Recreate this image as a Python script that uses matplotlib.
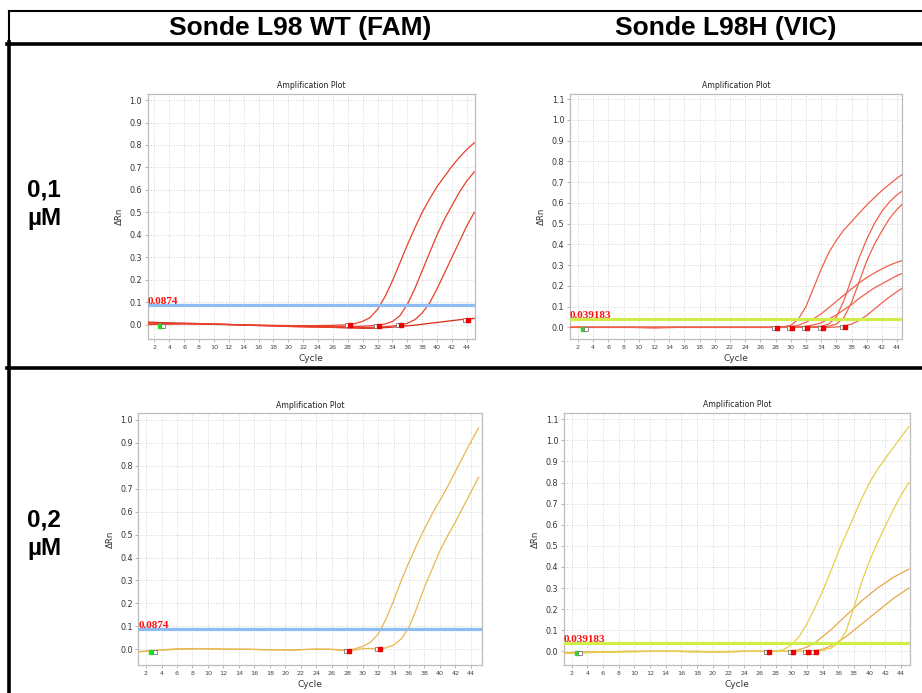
import numpy as np
import matplotlib.pyplot as plt
from matplotlib.transforms import blended_transform_factory

W, H = 922, 693

# column / row headers
col_titles = ["Sonde L98 WT (FAM)", "Sonde L98H (VIC)"]
row_titles = ["0,1\nµM", "0,2\nµM"]

# common cycle grid used for every curve
cycles = [1, 3, 6, 9, 12, 15, 18, 21, 24, 26] + list(range(28, 46))

# --- 0,1 µM / FAM ---
p1_thr = 0.0874
p1_a = [0.008, 0.006, 0.004, 0.002, 0.0, -0.002, -0.003, -0.004, -0.004, -0.003,
        0.0, 0.005, 0.015, 0.032, 0.068, 0.125, 0.195, 0.275, 0.355, 0.43, 0.5, 0.56,
        0.615, 0.66, 0.705, 0.745, 0.78, 0.81]
p1_b = [0.004, 0.003, 0.005, 0.003, 0.001, -0.002, -0.004, -0.007, -0.008, -0.009,
        -0.008, -0.008, -0.007, -0.005, -0.002, 0.003, 0.014, 0.04, 0.09, 0.16,
        0.24, 0.32, 0.4, 0.47, 0.53, 0.59, 0.64, 0.68]
p1_c = [0.0, 0.002, 0.004, 0.003, 0.001, -0.003, -0.006, -0.009, -0.011, -0.012,
        -0.013, -0.013, -0.013, -0.012, -0.011, -0.009, -0.006, -0.002, 0.006,
        0.022, 0.052, 0.097, 0.16, 0.23, 0.3, 0.37, 0.44, 0.5]
p1_d = [0.012, 0.009, 0.007, 0.004, 0.001, -0.002, -0.005, -0.008, -0.01, -0.012,
        -0.014, -0.015, -0.016, -0.016, -0.015, -0.013, -0.011, -0.008, -0.005,
        -0.002, 0.002, 0.006, 0.01, 0.014, 0.018, 0.022, 0.025, 0.028]
p1_mark_cyc = [28.3, 32.2, 35.2, 44.2]
p1_mark_val = [-0.003, -0.004, -0.003, 0.02]

# --- 0,1 µM / VIC ---
p2_thr = 0.039183
p2_e = [0.0] * 10 + [0.0, 0.003, 0.01, 0.04, 0.1, 0.19, 0.28, 0.36, 0.42, 0.47,
                     0.51, 0.55, 0.59, 0.625, 0.66, 0.69, 0.72, 0.745]
p2_g = [0.0] * 10 + [0.0, 0.0, 0.003, 0.01, 0.025, 0.042, 0.065, 0.095, 0.125,
                     0.156, 0.185, 0.215, 0.24, 0.262, 0.282, 0.3, 0.314, 0.326]
p2_h = [0.0, 0.0, 0.0, 0.0, -0.003, 0.0, 0.0, 0.0, 0.0, 0.0,
        0.0, 0.0, 0.0, 0.002, 0.006, 0.012, 0.022, 0.04, 0.06, 0.085, 0.11, 0.14,
        0.165, 0.19, 0.21, 0.23, 0.25, 0.265]
p2_f = [0.0] * 10 + [0.0, 0.0, 0.0, 0.0, 0.001, 0.003, 0.006, 0.016, 0.05, 0.13,
                     0.235, 0.335, 0.425, 0.5, 0.56, 0.605, 0.64, 0.665]
p2_f2 = [0.0] * 10 + [0.0, 0.0, 0.0, 0.0, 0.0, 0.001, 0.003, 0.006, 0.016, 0.048,
                      0.12, 0.22, 0.32, 0.4, 0.465, 0.525, 0.57, 0.605]
p2_l = [0.0] * 10 + [0.0, 0.0, 0.0, 0.0, 0.0, 0.0, 0.0, 0.0, 0.002, 0.006,
                     0.016, 0.033, 0.058, 0.088, 0.118, 0.147, 0.173, 0.197]
p2_mark_cyc = [28.2, 30.2, 32.2, 34.2, 37.2]
p2_mark_val = [-0.002, -0.002, -0.002, -0.002, 0.0]

# --- 0,2 µM / FAM ---
p3_thr = 0.0874
p3_p = [-0.01, -0.006, 0.0, 0.002, 0.0, 0.0, -0.003, -0.002, 0.0, 0.0,
        -0.005, 0.002, 0.012, 0.03, 0.065, 0.13, 0.21, 0.3, 0.38, 0.455, 0.525,
        0.59, 0.65, 0.71, 0.775, 0.84, 0.905, 0.965]
p3_q = [-0.012, -0.005, 0.002, 0.003, 0.001, 0.0, -0.002, -0.004, 0.001, -0.001,
        -0.007, -0.003, 0.002, 0.004, 0.0, 0.006, 0.018, 0.045, 0.095, 0.18, 0.27,
        0.35, 0.43, 0.495, 0.555, 0.62, 0.685, 0.75]
p3_mark_cyc = [28.3, 32.2]
p3_mark_val = [-0.007, 0.0]

# --- 0,2 µM / VIC ---
p4_thr = 0.039183
p4_r = [-0.01, -0.008, -0.004, -0.002, 0.0, 0.0, -0.002, 0.0, 0.0, 0.0,
        0.0, 0.008, 0.03, 0.07, 0.13, 0.205, 0.285, 0.375, 0.47, 0.555, 0.64, 0.725,
        0.8, 0.862, 0.915, 0.965, 1.015, 1.065]
p4_s = [-0.008, -0.006, -0.003, -0.002, 0.0, 0.0, 0.0, -0.002, 0.0, 0.0,
        0.0, 0.0, 0.0, 0.0, 0.0, 0.0, 0.005, 0.014, 0.038, 0.095, 0.21, 0.33, 0.43,
        0.515, 0.595, 0.67, 0.74, 0.8]
p4_t = [-0.006, -0.004, -0.002, 0.0, 0.0, 0.0, -0.002, -0.002, 0.0, 0.0,
        0.0, 0.0, 0.0, 0.008, 0.02, 0.04, 0.07, 0.1, 0.135, 0.17, 0.205, 0.24,
        0.27, 0.3, 0.325, 0.35, 0.37, 0.39]
p4_u = [-0.008, -0.005, -0.002, 0.0, 0.0, 0.0, 0.0, -0.002, 0.0, 0.0,
        0.0, 0.0, 0.0, 0.0, 0.0, 0.003, 0.01, 0.025, 0.045, 0.07, 0.1, 0.13,
        0.16, 0.19, 0.22, 0.25, 0.275, 0.3]
p4_mark_cyc = [27.2, 30.2, 32.2, 33.2]
p4_mark_val = [-0.005, -0.003, -0.005, -0.003]


def box(l, t, r, b):
    return [l / W, 1 - b / H, (r - l) / W, (b - t) / H]


fig = plt.figure(figsize=(W / 100, H / 100), dpi=100)

# background layer in pixel coordinates for the table frame
bg = fig.add_axes([0, 0, 1, 1])
bg.set_xlim(0, W)
bg.set_ylim(H, 0)
bg.axis("off")
bg.plot([8.5, W], [11, 11], color="black", lw=1.5)
bg.plot([8.5, 8.5], [11, 43], color="black", lw=1.5)
bg.plot([7, W], [43.5, 43.5], color="black", lw=2.6)
bg.plot([9, 9], [42, H], color="black", lw=2.6)
bg.plot([7, W], [368, 368], color="black", lw=2.6)

for x, t in zip([300, 726], col_titles):
    bg.text(x, 28, t, ha="center", va="center", fontsize=19,
            fontweight="bold", family="Liberation Sans")
for y, t in zip([204, 534], row_titles):
    bg.text(27, y, t, ha="left", va="center", fontsize=17.5,
            fontweight="bold", family="Liberation Sans", linespacing=1.3)


def amp_plot(rect, xlim, ylim, ymax_tick, thr, thr_color, thr_label,
             curves, colors, mark_cyc, mark_val):
    ax = fig.add_axes(rect)
    for vals, col in zip(curves, colors):
        ax.plot(cycles, vals, color=col, lw=0.9, zorder=3)
    ax.axhline(thr, color=thr_color, lw=2.3, zorder=4)
    trans = blended_transform_factory(ax.transAxes, ax.transData)
    ax.text(0.0, thr - 0.004, thr_label, transform=trans, color="#ff1010",
            fontsize=8, fontweight="bold", family="Liberation Serif",
            ha="left", va="bottom", zorder=6)
    # baseline start / end markers
    ax.plot([2.7], [mark_val[0] - 0.004], "s", color="#22dd22", ms=3.2, zorder=5)
    ax.plot([3.1], [mark_val[0] - 0.004], "s", mfc="white", mec="#777777",
            ms=2.8, mew=0.6, zorder=5)
    for c, v in zip(mark_cyc, mark_val):
        ax.plot([c - 0.4], [v], "s", mfc="white", mec="#777777", ms=2.8,
                mew=0.6, zorder=5)
        ax.plot([c], [v], "s", color="#ee0000", ms=3.2, zorder=5)
    ax.set_xlim(*xlim)
    ax.set_ylim(*ylim)
    ax.set_xticks(np.arange(2, 46, 2))
    yt = np.round(np.arange(0, ymax_tick + 0.01, 0.1), 1)
    ax.set_yticks(yt)
    ax.set_yticklabels([f"{v:.1f}" for v in yt])
    ax.grid(True, linestyle=(0, (1, 2)), color="#c8c8c8", lw=0.6)
    for s in ax.spines.values():
        s.set_color("#bdbdbd")
        s.set_linewidth(0.9)
    ax.tick_params(axis="y", labelsize=5.8, length=2, width=0.5,
                   color="#999999", labelcolor="#333333", pad=2)
    ax.tick_params(axis="x", labelsize=4.6, length=2, width=0.5,
                   color="#999999", labelcolor="#444444", pad=2)
    ax.set_title("Amplification Plot", fontsize=5.6, pad=4, color="#222222")
    ax.set_xlabel("Cycle", fontsize=6.5, labelpad=3, color="#333333")
    ax.set_ylabel("ΔRn", fontsize=6.2, labelpad=4, color="#333333")
    return ax


red1 = "#e8402c"
red2 = "#f0604a"
gold = "#e8b850"
yel = "#e6cf4a"
org = "#e4a84a"
blue = "#8cbcf2"
lime = "#cfee48"

amp_plot(box(147.7, 94, 475, 339.3), (1.1, 45.1), (-0.065, 1.027), 1.0,
         p1_thr, blue, "0.0874", [p1_d, p1_c, p1_b, p1_a],
         ["#d82a18", red1, red1, red1], p1_mark_cyc, p1_mark_val)
amp_plot(box(570, 94, 901.7, 339), (0.95, 44.6), (-0.056, 1.125), 1.1,
         p2_thr, lime, "0.039183", [p2_l, p2_h, p2_g, p2_f2, p2_f, p2_e],
         [red2] * 6, p2_mark_cyc, p2_mark_val)
amp_plot(box(138.3, 413.3, 481.7, 665.3), (1.0, 45.4), (-0.07, 1.029), 1.0,
         p3_thr, blue, "0.0874", [p3_q, p3_p], [gold, gold],
         p3_mark_cyc, p3_mark_val)
amp_plot(box(564, 412.7, 910, 665.3), (1.02, 45.15), (-0.066, 1.131), 1.1,
         p4_thr, lime, "0.039183", [p4_u, p4_t, p4_s, p4_r],
         [org, org, yel, yel], p4_mark_cyc, p4_mark_val)

fig.savefig("out.png", dpi=100)
